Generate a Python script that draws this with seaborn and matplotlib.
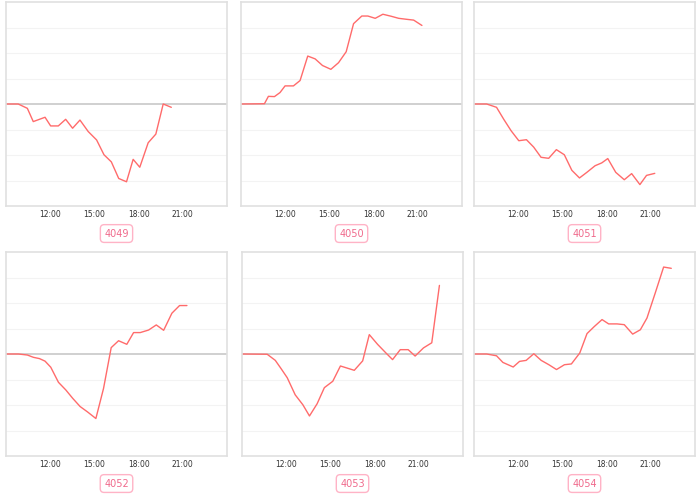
import matplotlib
matplotlib.use("Agg")
import matplotlib.pyplot as plt
import seaborn as sns

# readings per contract: time of day (hours) and change value
codes = ["4049", "4050", "4051", "4052", "4053", "4054"]

t_4049 = [9.0, 9.83, 10.45, 10.85, 11.65, 12.03, 12.55, 13.05, 13.52, 14.02, 14.58,
          15.15, 15.65, 16.15, 16.65, 17.18, 17.63, 18.08, 18.65, 19.17, 19.67, 20.22]
v_4049 = [0, 0, -0.17, -0.69, -0.52, -0.86, -0.86, -0.60, -0.95, -0.63, -1.08,
          -1.41, -1.99, -2.27, -2.92, -3.05, -2.17, -2.48, -1.52, -1.18, 0, -0.13]

t_4050 = [9.0, 10.59, 10.86, 11.27, 11.65, 11.99, 12.56, 13.01, 13.53, 14.03, 14.53, 15.10,
          15.62, 16.14, 16.64, 17.20, 17.61, 18.11, 18.63, 19.20, 19.70, 20.26, 20.72, 21.28]
v_4050 = [0, 0.01, 0.30, 0.29, 0.45, 0.71, 0.71, 0.92, 1.88, 1.77, 1.51, 1.36,
          1.62, 2.05, 3.15, 3.45, 3.45, 3.36, 3.52, 3.44, 3.36, 3.32, 3.29, 3.08]

t_4051 = [9.0, 9.86, 10.53, 11.03, 11.52, 12.04, 12.56, 13.05, 13.55, 14.07, 14.59, 15.13,
          15.64, 16.16, 16.66, 17.22, 17.67, 18.08, 18.62, 19.20, 19.70, 20.26, 20.71, 21.27]
v_4051 = [0, 0, -0.13, -0.61, -1.05, -1.44, -1.40, -1.69, -2.09, -2.13, -1.79, -1.99,
          -2.60, -2.90, -2.68, -2.42, -2.31, -2.14, -2.68, -2.97, -2.73, -3.16, -2.80, -2.72]

t_4052 = [9.0, 9.84, 10.45, 10.86, 11.27, 11.65, 12.04, 12.56, 13.06, 13.53, 14.03, 14.53, 15.10,
          15.62, 16.14, 16.64, 17.20, 17.66, 18.11, 18.68, 19.20, 19.70, 20.26, 20.78, 21.28]
v_4052 = [0, 0, -0.04, -0.13, -0.18, -0.28, -0.52, -1.11, -1.41, -1.74, -2.06, -2.27, -2.53,
          -1.35, 0.25, 0.52, 0.38, 0.84, 0.84, 0.94, 1.14, 0.93, 1.60, 1.90, 1.90]

t_4053 = [9.0, 10.71, 11.26, 11.66, 12.07, 12.61, 13.13, 13.58, 14.10, 14.59, 15.16, 15.68,
          16.62, 17.19, 17.64, 18.20, 18.77, 19.22, 19.74, 20.28, 20.75, 21.32, 21.88, 22.40]
v_4053 = [0, -0.01, -0.25, -0.58, -0.93, -1.60, -1.99, -2.43, -1.95, -1.32, -1.07, -0.47,
          -0.64, -0.27, 0.76, 0.38, 0.04, -0.22, 0.17, 0.17, -0.08, 0.24, 0.44, 2.69]

t_4054 = [9.0, 9.86, 10.53, 10.96, 11.66, 12.09, 12.54, 13.06, 13.56, 14.08, 14.60, 15.14, 15.61,
          16.18, 16.67, 17.17, 17.69, 18.14, 18.71, 19.20, 19.77, 20.29, 20.74, 21.30, 21.87, 22.39]
v_4054 = [0, 0, -0.07, -0.33, -0.51, -0.29, -0.25, 0.01, -0.25, -0.42, -0.61, -0.42, -0.39,
          0.04, 0.80, 1.08, 1.35, 1.18, 1.18, 1.15, 0.78, 0.95, 1.41, 2.39, 3.41, 3.36]

times = [t_4049, t_4050, t_4051, t_4052, t_4053, t_4054]
values = [v_4049, v_4050, v_4051, v_4052, v_4053, v_4054]

tick_pos = [12, 15, 18, 21]
tick_labels = ["12:00", "15:00", "18:00", "21:00"]

sns.set_style("white")

W, H = 700, 497
fig = plt.figure(figsize=(7, 4.97), dpi=100)

# panel boxes in pixels: left, top, right, bottom
boxes = [(6, 2, 227, 206), (241, 2, 462, 206), (474, 2, 695, 206),
         (6, 252, 227, 456), (242, 252, 463, 456), (474, 252, 695, 456)]

for code, t, v, (x0, y0, x1, y1) in zip(codes, times, values, boxes):
    ax = fig.add_axes([x0 / W, 1 - y1 / H, (x1 - x0) / W, (y1 - y0) / H])
    for g in [-3, -2, -1, 1, 2, 3]:
        ax.axhline(g, color="#f3f3f3", lw=0.8, zorder=0)
    ax.axhline(0, color="#c8c8c8", lw=1.2, zorder=1)
    sns.lineplot(x=t, y=v, ax=ax, color="#ff6b6b", lw=1.0, zorder=2)
    ax.set_xlim(9, 24)
    ax.set_ylim(-4, 4)
    ax.set_xticks(tick_pos)
    ax.set_xticklabels(tick_labels, fontsize=5.5, color="#333333")
    ax.set_yticks([])
    ax.tick_params(axis="x", length=0, pad=3)
    ax.set_xlabel("")
    ax.set_ylabel("")
    for s in ax.spines.values():
        s.set_color("#e0e0e0")
        s.set_linewidth(1.2)
    ax.text(0.5, -0.135, code, transform=ax.transAxes, ha="center", va="center",
            fontsize=7, color="#f06a8c",
            bbox=dict(boxstyle="round,pad=0.4", fc="white", ec="#ffb3c6", lw=1.0))

fig.savefig("out.png", dpi=100)
